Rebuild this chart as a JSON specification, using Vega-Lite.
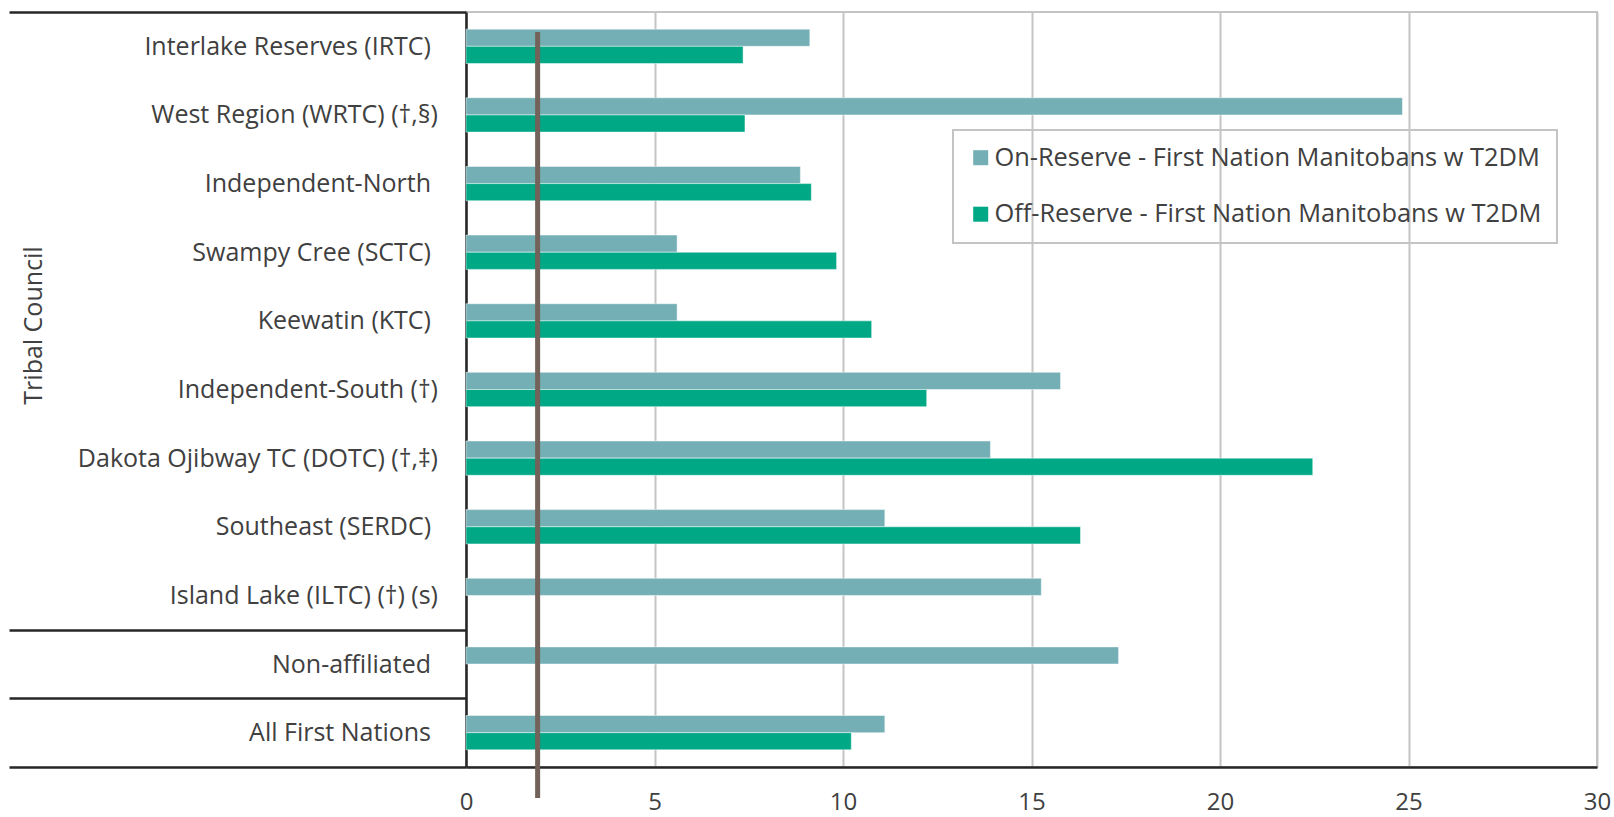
{
  "$schema": "https://vega.github.io/schema/vega-lite/v6.json",
  "width": 1131,
  "height": 755,
  "autosize": {"type": "none"},
  "padding": {"left": 466, "top": 12, "right": 17, "bottom": 50},
  "background": "white",
  "config": {
    "font": "Open Sans",
    "view": {"stroke": "#C4C4C4", "strokeWidth": 2},
    "axis": {"labelColor": "#404040", "titleColor": "#404040", "labelFont": "Open Sans", "titleFont": "Open Sans"},
    "legend": {"strokeWidth": 2}
  },
  "datasets": {
    "rates": [
      {"council": "Interlake Reserves (IRTC)", "group": "On-Reserve - First Nation Manitobans w T2DM", "value": 9.12},
      {"council": "Interlake Reserves (IRTC)", "group": "Off-Reserve - First Nation Manitobans w T2DM", "value": 7.35},
      {"council": "West Region (WRTC) (†,§)", "group": "On-Reserve - First Nation Manitobans w T2DM", "value": 24.84},
      {"council": "West Region (WRTC) (†,§)", "group": "Off-Reserve - First Nation Manitobans w T2DM", "value": 7.4},
      {"council": "Independent-North", "group": "On-Reserve - First Nation Manitobans w T2DM", "value": 8.87},
      {"council": "Independent-North", "group": "Off-Reserve - First Nation Manitobans w T2DM", "value": 9.16},
      {"council": "Swampy Cree (SCTC)", "group": "On-Reserve - First Nation Manitobans w T2DM", "value": 5.6},
      {"council": "Swampy Cree (SCTC)", "group": "Off-Reserve - First Nation Manitobans w T2DM", "value": 9.83},
      {"council": "Keewatin (KTC)", "group": "On-Reserve - First Nation Manitobans w T2DM", "value": 5.6},
      {"council": "Keewatin (KTC)", "group": "Off-Reserve - First Nation Manitobans w T2DM", "value": 10.76},
      {"council": "Independent-South (†)", "group": "On-Reserve - First Nation Manitobans w T2DM", "value": 15.77},
      {"council": "Independent-South (†)", "group": "Off-Reserve - First Nation Manitobans w T2DM", "value": 12.22},
      {"council": "Dakota Ojibway TC (DOTC) (†,‡)", "group": "On-Reserve - First Nation Manitobans w T2DM", "value": 13.91},
      {"council": "Dakota Ojibway TC (DOTC) (†,‡)", "group": "Off-Reserve - First Nation Manitobans w T2DM", "value": 22.46},
      {"council": "Southeast (SERDC)", "group": "On-Reserve - First Nation Manitobans w T2DM", "value": 11.11},
      {"council": "Southeast (SERDC)", "group": "Off-Reserve - First Nation Manitobans w T2DM", "value": 16.3},
      {"council": "Island Lake (ILTC) (†) (s)", "group": "On-Reserve - First Nation Manitobans w T2DM", "value": 15.26},
      {"council": "Non-affiliated", "group": "On-Reserve - First Nation Manitobans w T2DM", "value": 17.31},
      {"council": "All First Nations", "group": "On-Reserve - First Nation Manitobans w T2DM", "value": 11.11},
      {"council": "All First Nations", "group": "Off-Reserve - First Nation Manitobans w T2DM", "value": 10.22}
    ],
    "ref": [{"value": 1.9}]
  },
  "layer": [
    {
      "data": {"name": "rates"},
      "mark": {"type": "bar", "stroke": "#FFFFFF", "strokeWidth": 0.8, "strokeOpacity": 0.6},
      "encoding": {
        "y": {
          "field": "council",
          "type": "nominal",
          "sort": null,
          "scale": {"paddingInner": 0, "paddingOuter": 0},
          "axis": {
            "title": "Tribal Council",
            "titleFontSize": 25,
            "titleFontWeight": "normal",
            "titleX": -433,
            "titleY": 313,
            "titleAngle": 270,
            "titleAlign": "center",
            "titleBaseline": "middle",
            "titleLimit": 1000,
            "labelFontSize": 25,
            "labelLimit": 1000,
            "labelPadding": {
              "condition": {"test": "indexof(datum.label, '†') < 0", "value": -421.5},
              "value": -428.5
            },
            "tickBand": "extent",
            "tickSize": 457,
            "tickWidth": 2.5,
            "tickColor": {
              "condition": {
                "test": "datum.extra || datum.value === 'Island Lake (ILTC) (†) (s)' || datum.value === 'Non-affiliated' || datum.value === 'All First Nations'",
                "value": "#262626"
              },
              "value": "transparent"
            },
            "domainColor": "#262626",
            "domainWidth": 2.5,
            "grid": false
          }
        },
        "x": {
          "field": "value",
          "type": "quantitative",
          "scale": {"domain": [0, 30], "nice": false},
          "axis": {
            "title": null,
            "values": [0, 5, 10, 15, 20, 25, 30],
            "grid": true,
            "gridColor": "#C4C4C4",
            "gridWidth": 2,
            "ticks": false,
            "labelFontSize": 24,
            "labelPadding": 42,
            "labelBaseline": "alphabetic",
            "labelFlush": false,
            "domainColor": "#262626",
            "domainWidth": 2.5
          }
        },
        "yOffset": {
          "field": "group",
          "type": "nominal",
          "sort": ["On-Reserve - First Nation Manitobans w T2DM", "Off-Reserve - First Nation Manitobans w T2DM"],
          "scale": {"paddingInner": 0, "paddingOuter": 1.055}
        },
        "color": {
          "field": "group",
          "type": "nominal",
          "scale": {
            "domain": ["On-Reserve - First Nation Manitobans w T2DM", "Off-Reserve - First Nation Manitobans w T2DM"],
            "range": ["#74AFB6", "#00A886"]
          },
          "legend": {
            "title": null,
            "orient": "none",
            "legendX": 487,
            "legendY": 118,
            "direction": "vertical",
            "strokeColor": "#C4C4C4",
            "padding": 15,
            "symbolType": "square",
            "symbolSize": 225,
            "symbolStrokeWidth": 0,
            "labelFontSize": 25.4,
            "labelColor": "#404040",
            "labelFont": "Open Sans",
            "labelLimit": 1000,
            "labelOffset": 1,
            "rowPadding": 29.5
          }
        }
      }
    },
    {
      "data": {"name": "ref"},
      "mark": {"type": "rule", "color": "#72625A", "strokeWidth": 5},
      "encoding": {
        "x": {"field": "value", "type": "quantitative"},
        "y": {"datum": 0.29, "type": "quantitative", "scale": {"domain": [0, 11], "reverse": true, "nice": false, "zero": false}, "axis": null},
        "y2": {"datum": 11.45}
      }
    }
  ],
  "resolve": {"scale": {"y": "independent"}}
}
